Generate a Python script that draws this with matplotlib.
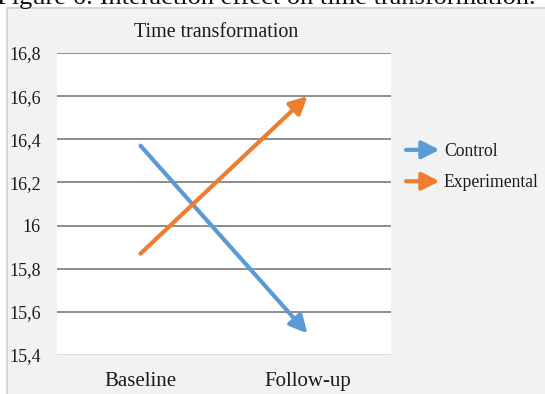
import matplotlib
matplotlib.use("Agg")
import matplotlib.pyplot as plt
from matplotlib.patches import Rectangle, FancyArrowPatch
from matplotlib.legend_handler import HandlerBase
from matplotlib.lines import Line2D

plt.rcParams['font.family'] = ['Liberation Serif', 'DejaVu Serif']

# Data
categories = ["Baseline", "Follow-up"]
series_names = ["Control", "Experimental"]
control = [16.37, 15.50]
experimental = [15.87, 16.60]
yticks = [15.4, 15.6, 15.8, 16.0, 16.2, 16.4, 16.6, 16.8]
ytick_labels = ["15,4", "15,6", "15,8", "16", "16,2", "16,4", "16,6", "16,8"]
colors = ["#5B9BD5", "#ED7D31"]

W, H = 545, 394
fig = plt.figure(figsize=(W / 100, H / 100), dpi=100)
fig.patch.set_facecolor("white")

# Chart area background
bg = Rectangle((7 / W, -0.01), 1, 1 - 8 / H + 0.01, transform=fig.transFigure,
               facecolor="#f2f2f2", edgecolor="#d0d0d0", lw=1.2, zorder=0)
fig.patches.append(bg)

# Caption partly cut at the top edge
fig.text(-0.005, 1 - 4 / H, "Figure 6: Interaction effect on time transformation.",
         fontsize=19, va="baseline", ha="left", color="#111111", zorder=2)

ax = fig.add_axes([57 / W, 1 - 355 / H, (391 - 57) / W, (355 - 53) / H])
ax.set_zorder(2)
ax.set_facecolor("white")
ax.set_xlim(-0.5, 1.5)
ax.set_ylim(15.4, 16.8)
ax.set_yticks(yticks)
ax.set_yticklabels(ytick_labels)
ax.set_xticks(range(len(categories)))
ax.set_xticklabels(categories)
ax.tick_params(length=0, colors="#1a1a1a")
ax.tick_params(axis="y", labelsize=13, pad=11.5)
ax.tick_params(axis="x", labelsize=15, pad=12.5)
for s in ax.spines.values():
    s.set_visible(False)
for y in yticks[1:]:
    ax.axhline(y, color="#8c8c8c", lw=1.4, zorder=1)
ax.axhline(yticks[0], color="#d9d9d9", lw=1.4, zorder=1)

fig.text(216 / W, 1 - 37 / H, "Time transformation", fontsize=14.4,
         color="#1a1a1a", ha="center", va="baseline", zorder=3)

for vals, c in zip([control, experimental], colors):
    ax.annotate("", xy=(1, vals[1]), xytext=(0, vals[0]),
                arrowprops=dict(arrowstyle="-|>,head_length=0.75,head_width=0.38",
                                color=c, lw=3.0, shrinkA=0, shrinkB=0,
                                capstyle="round", mutation_scale=14),
                zorder=3)


class ArrowHandler(HandlerBase):
    def create_artists(self, legend, orig_handle, xdescent, ydescent, width, height,
                       fontsize, trans):
        y = height / 2 - ydescent
        a = FancyArrowPatch((-xdescent, y), (width - xdescent, y),
                            arrowstyle="-|>,head_length=0.75,head_width=0.38",
                            color=orig_handle.get_color(), lw=3.0, mutation_scale=14,
                            shrinkA=0, shrinkB=0, transform=trans)
        return [a]


handles = [Line2D([], [], color=c) for c in colors]
leg = fig.legend(handles, series_names, handler_map={Line2D: ArrowHandler()},
                 loc="upper left", bbox_to_anchor=(406 / W, 1 - 143 / H),
                 frameon=False, fontsize=12.7, handlelength=1.9, handletextpad=0.25,
                 labelspacing=0.82, borderaxespad=0, borderpad=0,
                 labelcolor="#1a1a1a")
leg.set_zorder(3)

fig.savefig("out.png", dpi=100)
